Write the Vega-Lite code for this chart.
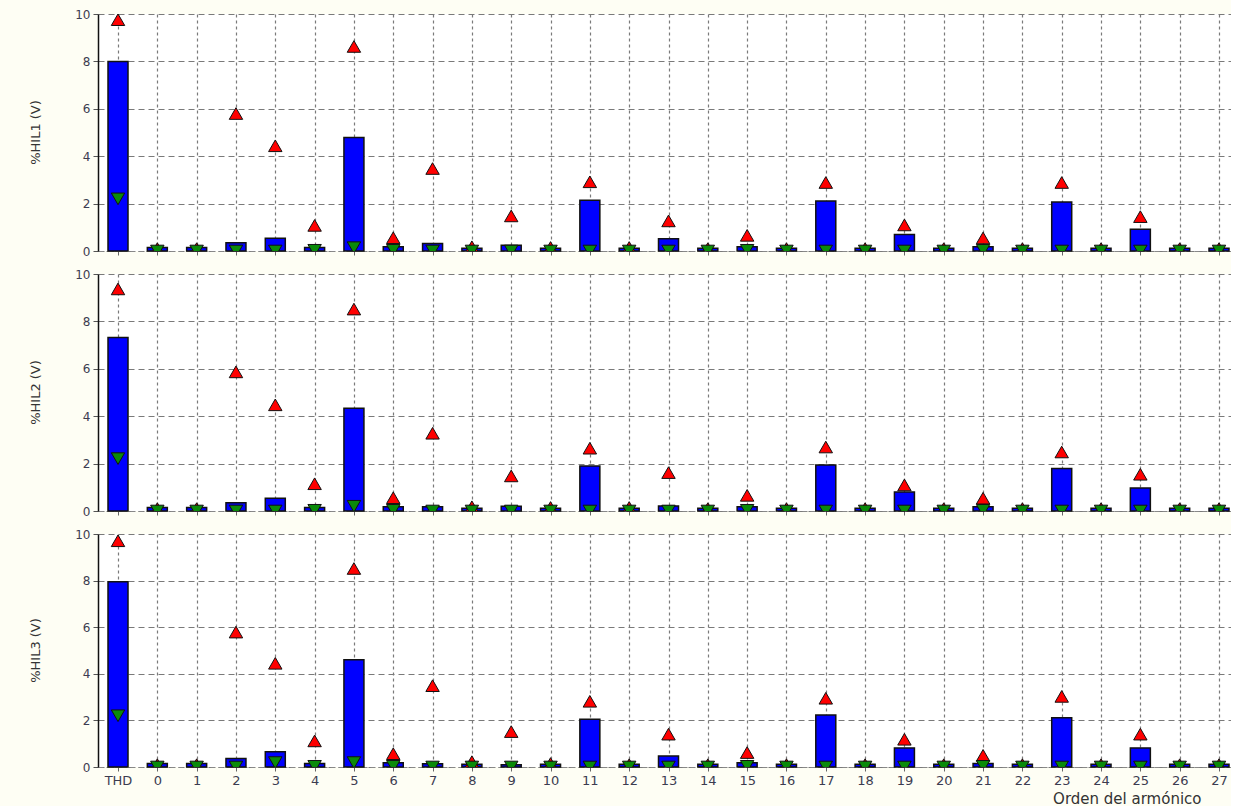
{
  "$schema": "https://vega.github.io/schema/vega-lite/v6.json",
  "padding": {"left": 29, "top": 8, "right": 0, "bottom": 0},
  "background": "#fefef4",
  "spacing": 11,
  "datasets": {
    "h": [
      {"p":1,"h":"THD","avg":8.0,"max":9.76,"min":2.2},
      {"p":1,"h":"0","avg":0.15,"max":0.1,"min":0},
      {"p":1,"h":"1","avg":0.15,"max":0.1,"min":0},
      {"p":1,"h":"2","avg":0.35,"max":5.8,"min":0},
      {"p":1,"h":"3","avg":0.54,"max":4.44,"min":0},
      {"p":1,"h":"4","avg":0.15,"max":1.08,"min":0.03},
      {"p":1,"h":"5","avg":4.79,"max":8.63,"min":0.14},
      {"p":1,"h":"6","avg":0.18,"max":0.56,"min":0.03},
      {"p":1,"h":"7","avg":0.32,"max":3.48,"min":0},
      {"p":1,"h":"8","avg":0.12,"max":0.18,"min":0},
      {"p":1,"h":"9","avg":0.24,"max":1.48,"min":0},
      {"p":1,"h":"10","avg":0.12,"max":0.15,"min":0},
      {"p":1,"h":"11","avg":2.14,"max":2.92,"min":0},
      {"p":1,"h":"12","avg":0.12,"max":0.15,"min":0},
      {"p":1,"h":"13","avg":0.52,"max":1.27,"min":0},
      {"p":1,"h":"14","avg":0.12,"max":0.1,"min":0},
      {"p":1,"h":"15","avg":0.18,"max":0.66,"min":0.03},
      {"p":1,"h":"16","avg":0.12,"max":0.1,"min":0},
      {"p":1,"h":"17","avg":2.11,"max":2.89,"min":0},
      {"p":1,"h":"18","avg":0.12,"max":0.1,"min":0},
      {"p":1,"h":"19","avg":0.7,"max":1.1,"min":0},
      {"p":1,"h":"20","avg":0.12,"max":0.1,"min":0},
      {"p":1,"h":"21","avg":0.18,"max":0.55,"min":0.03},
      {"p":1,"h":"22","avg":0.12,"max":0.1,"min":0},
      {"p":1,"h":"23","avg":2.07,"max":2.89,"min":0},
      {"p":1,"h":"24","avg":0.12,"max":0.1,"min":0},
      {"p":1,"h":"25","avg":0.92,"max":1.45,"min":0},
      {"p":1,"h":"26","avg":0.12,"max":0.1,"min":0},
      {"p":1,"h":"27","avg":0.12,"max":0.1,"min":0},
      {"p":2,"h":"THD","avg":7.32,"max":9.37,"min":2.21},
      {"p":2,"h":"0","avg":0.15,"max":0.1,"min":0},
      {"p":2,"h":"1","avg":0.15,"max":0.1,"min":0},
      {"p":2,"h":"2","avg":0.35,"max":5.87,"min":0},
      {"p":2,"h":"3","avg":0.54,"max":4.48,"min":0},
      {"p":2,"h":"4","avg":0.15,"max":1.15,"min":0.03},
      {"p":2,"h":"5","avg":4.34,"max":8.52,"min":0.2},
      {"p":2,"h":"6","avg":0.18,"max":0.56,"min":0.03},
      {"p":2,"h":"7","avg":0.18,"max":3.28,"min":0},
      {"p":2,"h":"8","avg":0.12,"max":0.18,"min":0},
      {"p":2,"h":"9","avg":0.2,"max":1.48,"min":0},
      {"p":2,"h":"10","avg":0.12,"max":0.15,"min":0},
      {"p":2,"h":"11","avg":1.9,"max":2.65,"min":0},
      {"p":2,"h":"12","avg":0.12,"max":0.15,"min":0},
      {"p":2,"h":"13","avg":0.21,"max":1.62,"min":0},
      {"p":2,"h":"14","avg":0.12,"max":0.1,"min":0},
      {"p":2,"h":"15","avg":0.18,"max":0.66,"min":0.03},
      {"p":2,"h":"16","avg":0.12,"max":0.1,"min":0},
      {"p":2,"h":"17","avg":1.94,"max":2.7,"min":0},
      {"p":2,"h":"18","avg":0.12,"max":0.1,"min":0},
      {"p":2,"h":"19","avg":0.8,"max":1.1,"min":0},
      {"p":2,"h":"20","avg":0.12,"max":0.1,"min":0},
      {"p":2,"h":"21","avg":0.18,"max":0.54,"min":0.03},
      {"p":2,"h":"22","avg":0.12,"max":0.1,"min":0},
      {"p":2,"h":"23","avg":1.79,"max":2.49,"min":0},
      {"p":2,"h":"24","avg":0.12,"max":0.1,"min":0},
      {"p":2,"h":"25","avg":0.97,"max":1.55,"min":0},
      {"p":2,"h":"26","avg":0.12,"max":0.1,"min":0},
      {"p":2,"h":"27","avg":0.12,"max":0.1,"min":0},
      {"p":3,"h":"THD","avg":7.95,"max":9.71,"min":2.2},
      {"p":3,"h":"0","avg":0.15,"max":0.1,"min":0},
      {"p":3,"h":"1","avg":0.15,"max":0.1,"min":0},
      {"p":3,"h":"2","avg":0.37,"max":5.79,"min":0},
      {"p":3,"h":"3","avg":0.65,"max":4.45,"min":0.19},
      {"p":3,"h":"4","avg":0.15,"max":1.12,"min":0.03},
      {"p":3,"h":"5","avg":4.6,"max":8.52,"min":0.19},
      {"p":3,"h":"6","avg":0.18,"max":0.57,"min":0.03},
      {"p":3,"h":"7","avg":0.14,"max":3.49,"min":0},
      {"p":3,"h":"8","avg":0.12,"max":0.23,"min":0},
      {"p":3,"h":"9","avg":0.1,"max":1.52,"min":0},
      {"p":3,"h":"10","avg":0.12,"max":0.15,"min":0},
      {"p":3,"h":"11","avg":2.05,"max":2.82,"min":0},
      {"p":3,"h":"12","avg":0.12,"max":0.1,"min":0},
      {"p":3,"h":"13","avg":0.47,"max":1.41,"min":0},
      {"p":3,"h":"14","avg":0.12,"max":0.1,"min":0},
      {"p":3,"h":"15","avg":0.18,"max":0.62,"min":0.03},
      {"p":3,"h":"16","avg":0.12,"max":0.1,"min":0},
      {"p":3,"h":"17","avg":2.23,"max":2.95,"min":0},
      {"p":3,"h":"18","avg":0.12,"max":0.1,"min":0},
      {"p":3,"h":"19","avg":0.82,"max":1.19,"min":0},
      {"p":3,"h":"20","avg":0.12,"max":0.1,"min":0},
      {"p":3,"h":"21","avg":0.15,"max":0.5,"min":0.03},
      {"p":3,"h":"22","avg":0.12,"max":0.1,"min":0},
      {"p":3,"h":"23","avg":2.11,"max":3.03,"min":0},
      {"p":3,"h":"24","avg":0.12,"max":0.1,"min":0},
      {"p":3,"h":"25","avg":0.82,"max":1.41,"min":0},
      {"p":3,"h":"26","avg":0.12,"max":0.1,"min":0},
      {"p":3,"h":"27","avg":0.12,"max":0.1,"min":0}
    ]
  },
  "config": {
    "view": {"stroke": null, "fill": "white"},
    "font": "DejaVu Sans",
    "axis": {
      "labelFont": "DejaVu Sans",
      "labelFontSize": 12,
      "labelColor": "#3c3c50",
      "titleFont": "DejaVu Sans",
      "titleColor": "#333333",
      "titleFontWeight": "normal",
      "gridColor": "#7a7a7a",
      "gridWidth": 1.2,
      "tickColor": "#555555"
    }
  },
  "vconcat": [
    {
      "width": 1133, "height": 237,
      "data": {"name": "h"},
      "transform": [{"filter": "datum.p == 1"}],
      "encoding": {
        "x": {"field": "h", "type": "nominal", "sort": ["THD","0","1","2","3","4","5","6","7","8","9","10","11","12","13","14","15","16","17","18","19","20","21","22","23","24","25","26","27"],
          "scale": {"type": "point", "padding": 0.407, "align": 0.625},
          "axis": {"title": null, "labels": false, "grid": true, "ticks": true, "tickSize": 4, "domainColor": "#888888", "domainDash": [5, 3], "gridDash": [3, 3], "tickColor": "#666666"}}
      },
      "layer": [
        {"mark": {"type": "bar", "size": 20, "color": "#0000ff", "stroke": "#111111", "strokeWidth": 1.5},
         "encoding": {"y": {"field": "avg", "type": "quantitative", "scale": {"domain": [0, 10], "nice": false},
           "axis": {"title": "%HIL1 (V)", "titleX": -63, "titleY": 118, "titleAngle": -90, "titleBaseline": "middle", "titleAlign": "center", "titleFontSize": 13, "values": [0,2,4,6,8,10], "domainColor": "#111111", "domainWidth": 1.5, "tickSize": 5, "labelPadding": 3, "gridDash": [6, 4]}}}},
        {"mark": {"type": "point", "shape": "triangle-up", "filled": true, "size": 180, "color": "#ff0000", "stroke": "#111111", "strokeWidth": 1, "opacity": 1, "clip": true},
         "encoding": {"y": {"field": "max", "type": "quantitative"}}},
        {"mark": {"type": "point", "shape": "triangle-down", "filled": true, "size": 180, "color": "#0a8a0a", "stroke": "#111111", "strokeWidth": 1, "opacity": 1, "clip": true},
         "encoding": {"y": {"field": "min", "type": "quantitative"}}}
      ]
    },
    {
      "width": 1133, "height": 237,
      "data": {"name": "h"},
      "transform": [{"filter": "datum.p == 2"}],
      "encoding": {
        "x": {"field": "h", "type": "nominal", "sort": ["THD","0","1","2","3","4","5","6","7","8","9","10","11","12","13","14","15","16","17","18","19","20","21","22","23","24","25","26","27"],
          "scale": {"type": "point", "padding": 0.407, "align": 0.625},
          "axis": {"title": null, "labels": false, "grid": true, "ticks": true, "tickSize": 4, "domainColor": "#888888", "domainDash": [5, 3], "gridDash": [3, 3], "tickColor": "#666666"}}
      },
      "layer": [
        {"mark": {"type": "bar", "size": 20, "color": "#0000ff", "stroke": "#111111", "strokeWidth": 1.5},
         "encoding": {"y": {"field": "avg", "type": "quantitative", "scale": {"domain": [0, 10], "nice": false},
           "axis": {"title": "%HIL2 (V)", "titleX": -63, "titleY": 118, "titleAngle": -90, "titleBaseline": "middle", "titleAlign": "center", "titleFontSize": 13, "values": [0,2,4,6,8,10], "domainColor": "#111111", "domainWidth": 1.5, "tickSize": 5, "labelPadding": 3, "gridDash": [6, 4]}}}},
        {"mark": {"type": "point", "shape": "triangle-up", "filled": true, "size": 180, "color": "#ff0000", "stroke": "#111111", "strokeWidth": 1, "opacity": 1, "clip": true},
         "encoding": {"y": {"field": "max", "type": "quantitative"}}},
        {"mark": {"type": "point", "shape": "triangle-down", "filled": true, "size": 180, "color": "#0a8a0a", "stroke": "#111111", "strokeWidth": 1, "opacity": 1, "clip": true},
         "encoding": {"y": {"field": "min", "type": "quantitative"}}}
      ]
    },
    {
      "width": 1133, "height": 233,
      "data": {"name": "h"},
      "transform": [{"filter": "datum.p == 3"}],
      "encoding": {
        "x": {"field": "h", "type": "nominal", "sort": ["THD","0","1","2","3","4","5","6","7","8","9","10","11","12","13","14","15","16","17","18","19","20","21","22","23","24","25","26","27"],
          "scale": {"type": "point", "padding": 0.407, "align": 0.625},
          "axis": {"title": "Orden del armónico", "titleFontSize": 15, "titleX": 1103, "titleY": 36, "titleAlign": "right", "titleBaseline": "alphabetic", "labelAngle": 0, "labelPadding": 3, "labelFontSize": 13, "grid": true, "tickSize": 4, "domainColor": "#888888", "domainDash": [5, 3], "gridDash": [3, 3], "tickColor": "#666666"}}
      },
      "layer": [
        {"mark": {"type": "bar", "size": 20, "color": "#0000ff", "stroke": "#111111", "strokeWidth": 1.5},
         "encoding": {"y": {"field": "avg", "type": "quantitative", "scale": {"domain": [0, 10], "nice": false},
           "axis": {"title": "%HIL3 (V)", "titleX": -63, "titleY": 116, "titleAngle": -90, "titleBaseline": "middle", "titleAlign": "center", "titleFontSize": 13, "values": [0,2,4,6,8,10], "domainColor": "#111111", "domainWidth": 1.5, "tickSize": 5, "labelPadding": 3, "gridDash": [6, 4]}}}},
        {"mark": {"type": "point", "shape": "triangle-up", "filled": true, "size": 180, "color": "#ff0000", "stroke": "#111111", "strokeWidth": 1, "opacity": 1, "clip": true},
         "encoding": {"y": {"field": "max", "type": "quantitative"}}},
        {"mark": {"type": "point", "shape": "triangle-down", "filled": true, "size": 180, "color": "#0a8a0a", "stroke": "#111111", "strokeWidth": 1, "opacity": 1, "clip": true},
         "encoding": {"y": {"field": "min", "type": "quantitative"}}}
      ]
    }
  ]
}
